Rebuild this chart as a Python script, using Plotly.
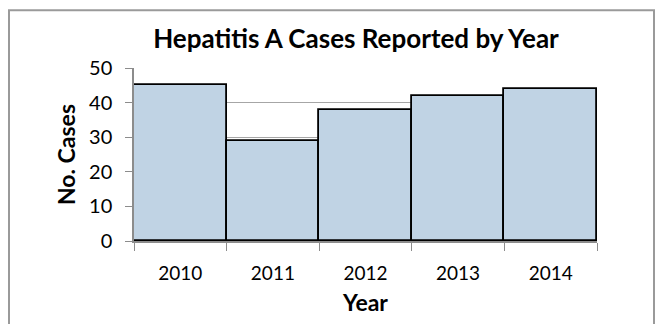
import plotly.graph_objects as go

years = ["2010", "2011", "2012", "2013", "2014"]
cases = [45, 29, 38, 42, 44]
y_ticks = [0, 10, 20, 30, 40, 50]

FONT = "Lato"

fig = go.Figure()
fig.add_trace(go.Bar(
    x=years, y=cases,
    marker=dict(color="#c0d3e4", line=dict(color="#000000", width=1.8)),
    width=1.0,
))

L, R, T, B = 134, 60, 68, 81
W, H = 657, 324
pw = W - L - R
ph = H - T - B

def px_x(x):
    return (x - L) / pw

def px_y(y):
    return (H - B - y) / ph

fig.update_layout(
    width=W, height=H,
    margin=dict(l=L, r=R, t=T, b=B, pad=0),
    paper_bgcolor="white", plot_bgcolor="white",
    bargap=0,
    showlegend=False,
    font=dict(family=FONT, color="#000000"),
    title=dict(text="<b>Hepatitis A Cases Reported by Year</b>",
               xref="container", x=356 / W, xanchor="center",
               yref="container", y=1 - 39 / H, yanchor="middle",
               font=dict(size=26, family=FONT, color="#000000")),
    xaxis=dict(
        type="category",
        showgrid=False,
        showline=True, linecolor="#8c8c8c", linewidth=1.5,
        ticks="outside", tickson="boundaries", ticklen=8, tickcolor="#8c8c8c", tickwidth=1.2,
        ticklabelstandoff=14,
        tickfont=dict(size=19, family=FONT),
        title=dict(text="<b>Year</b>", font=dict(size=23, family=FONT), standoff=12),
        range=[-0.5, 4.5],
    ),
    yaxis=dict(
        range=[0, 50], tickvals=y_ticks,
        showgrid=True, gridcolor="#a6a6a6", gridwidth=1.2,
        showline=True, linecolor="#8c8c8c", linewidth=1.5,
        ticks="outside", ticklen=7, tickcolor="#8c8c8c", tickwidth=1.2,
        ticklabelstandoff=9,
        tickfont=dict(size=20, family=FONT),
        title=dict(text="<b>No. Cases</b>", font=dict(size=23, family=FONT), standoff=7),
        zeroline=False,
    ),
    shapes=[dict(type="rect", xref="paper", yref="paper",
                 x0=px_x(9), x1=px_x(654), y0=px_y(340), y1=px_y(9.5),
                 line=dict(color="#9a9a9a", width=2), fillcolor="rgba(0,0,0,0)", layer="below")],
)

fig.write_html("out.html")
